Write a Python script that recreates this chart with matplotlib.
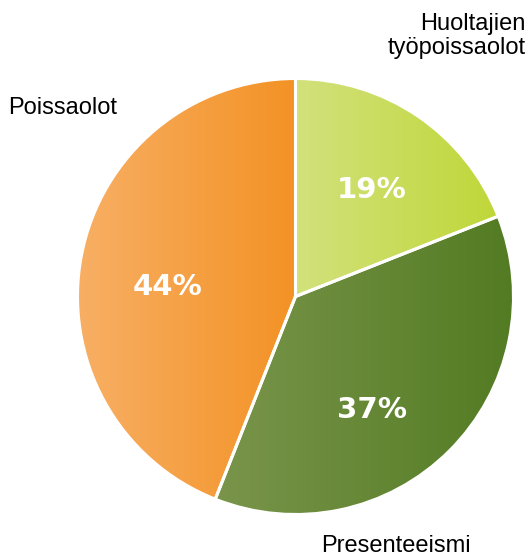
import numpy as np
import matplotlib.pyplot as plt
from matplotlib.colors import LinearSegmentedColormap

# Shares of lost working time, clockwise from 12 o'clock
labels = ["Huoltajien\ntyöpoissaolot", "Presenteeismi", "Poissaolot"]
shares = [19, 37, 44]
grad_left = ["#d3e17c", "#7a954b", "#f8b066"]
grad_right = ["#c0d739", "#527b22", "#f39225"]

W, H = 529, 557
fig = plt.figure(figsize=(W / 100, H / 100), dpi=100)
ax = fig.add_axes([0, 0, 1, 1])

cx, cy, r = 295.5, H - 296.5, 218

wedges, _, autotexts = ax.pie(
    shares, startangle=90, counterclock=False, center=(cx, cy), radius=r,
    autopct="%d%%", pctdistance=0.6, frame=True,
    wedgeprops=dict(facecolor="none", edgecolor="white", linewidth=2.2),
    textprops=dict(color="white", fontsize=21, fontweight="bold",
                   family="DejaVu Sans"),
)
ax.set_xlim(0, W)
ax.set_ylim(0, H)
ax.set_aspect("equal")
ax.axis("off")

# horizontal gradient fill clipped to each wedge
ramp = np.linspace(0, 1, 256).reshape(1, -1)
for w, c0, c1 in zip(wedges, grad_left, grad_right):
    verts = w.get_path().vertices
    x0, x1 = verts[:, 0].min(), verts[:, 0].max()
    y0, y1 = verts[:, 1].min(), verts[:, 1].max()
    cmap = LinearSegmentedColormap.from_list("g", [c0, c1])
    im = ax.imshow(ramp, cmap=cmap, extent=(x0, x1, y0, y1), aspect="auto",
                   zorder=0.5, interpolation="bilinear")
    im.set_clip_path(w)
    w.set_zorder(1)

# nudge percentage labels
pct_pos = [(372, H - 190), (372, H - 410), (168, H - 287)]
for t, (px, py) in zip(autotexts, pct_pos):
    t.set_position((px, py))
    t.set_zorder(2)

font = dict(family="Liberation Sans", fontsize=17, color="black")
ax.text(8, H - 108, labels[2], ha="left", va="center", **font)
ax.text(526, H - 36, labels[0], ha="right", va="center",
        linespacing=1.12, multialignment="right", **font)
ax.text(396, H - 546, labels[1], ha="center", va="center", **font)

fig.savefig("out.png", dpi=100)
